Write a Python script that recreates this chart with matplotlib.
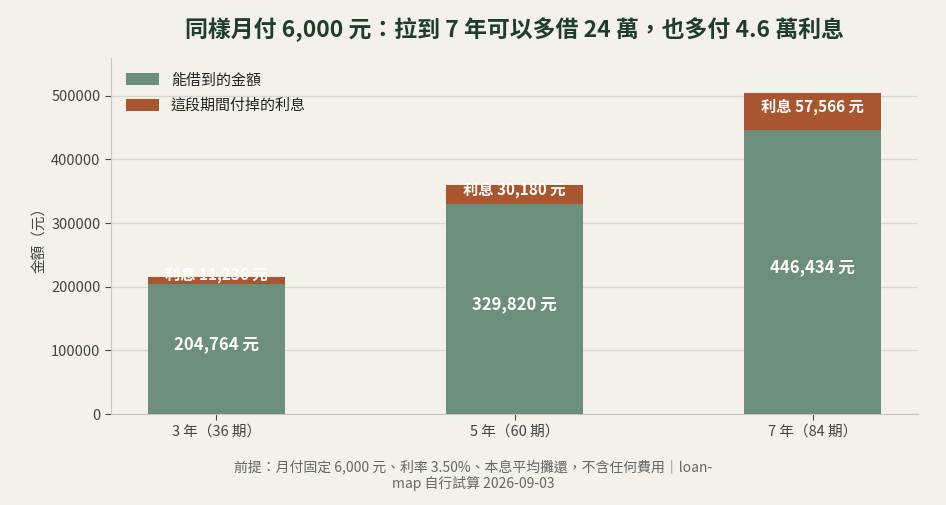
import matplotlib
matplotlib.use("Agg")
import matplotlib.pyplot as plt
import numpy as np

plt.rcParams['font.family'] = ['Noto Sans CJK TC', 'DejaVu Sans']

categories = ["3 年（36 期）", "5 年（60 期）", "7 年（84 期）"]
principal = [204764, 329820, 446434]
interest = [11236, 30180, 57566]
legend_labels = ["能借到的金額", "這段期間付掉的利息"]
title = "同樣月付 6,000 元：拉到 7 年可以多借 24 萬，也多付 4.6 萬利息"
footer = "前提：月付固定 6,000 元、利率 3.50%、本息平均攤還，不含任何費用｜loan-\nmap 自行試算 2026-09-03"

bg = "#f3f1ea"
green = "#6b8f7a"
rust = "#a9552f"

fig = plt.figure(figsize=(9.46, 5.05), dpi=100, facecolor=bg)
ax = fig.add_axes([111/946, 1-414/505, (918-111)/946, (414-58)/505])
ax.set_facecolor(bg)

x = np.arange(len(categories))
w = 0.46
ax.bar(x, principal, width=w, color=green, label=legend_labels[0], zorder=3)
ax.bar(x, interest, width=w, bottom=principal, color=rust, label=legend_labels[1], zorder=3)

for i in range(len(x)):
    ax.annotate(f"{principal[i]:,} 元", (x[i], principal[i]/2), xytext=(0, 3.5),
                textcoords='offset points', ha='center', va='center',
                color='white', fontsize=12, fontweight='bold', zorder=4)
    ax.annotate(f"利息 {interest[i]:,} 元", (x[i], principal[i] + interest[i]/2), xytext=(0, 3.5),
                textcoords='offset points', ha='center', va='center',
                color='white', fontsize=11, fontweight='bold', zorder=4)

ax.set_ylim(0, 559500)
ax.set_xlim(-0.354, 2.354)
ax.set_xticks(x)
ax.set_xticklabels(categories, fontsize=10.5, color="#444444")
ax.set_yticks(np.arange(0, 500001, 100000))
ax.set_yticklabels([str(v) for v in range(0, 500001, 100000)], fontsize=10.5, color="#444444")
ax.grid(axis='y', color="#d9d7d0", linewidth=0.9, zorder=0)
for s in ['top', 'right']:
    ax.spines[s].set_visible(False)
for s in ['left', 'bottom']:
    ax.spines[s].set_color("#c8c6bf")
ax.tick_params(colors="#444444", length=4)
ax.set_ylabel("金額（元）", fontsize=10.5, color="#444444", labelpad=3)

ax.set_title(title, fontsize=16.5, fontweight='bold', color="#1f3d2e", pad=15)
leg = ax.legend(loc='upper left', frameon=False, fontsize=10.8, handlelength=2.2, handleheight=0.9,
                labelspacing=0.75, borderaxespad=0.6)
for t in leg.get_texts():
    t.set_color("#222222")

fig.text(0.5, 0.028, footer, ha='center', va='bottom', fontsize=10, color="#666666", linespacing=1.05)

fig.savefig("out.png", dpi=100, facecolor=bg)
